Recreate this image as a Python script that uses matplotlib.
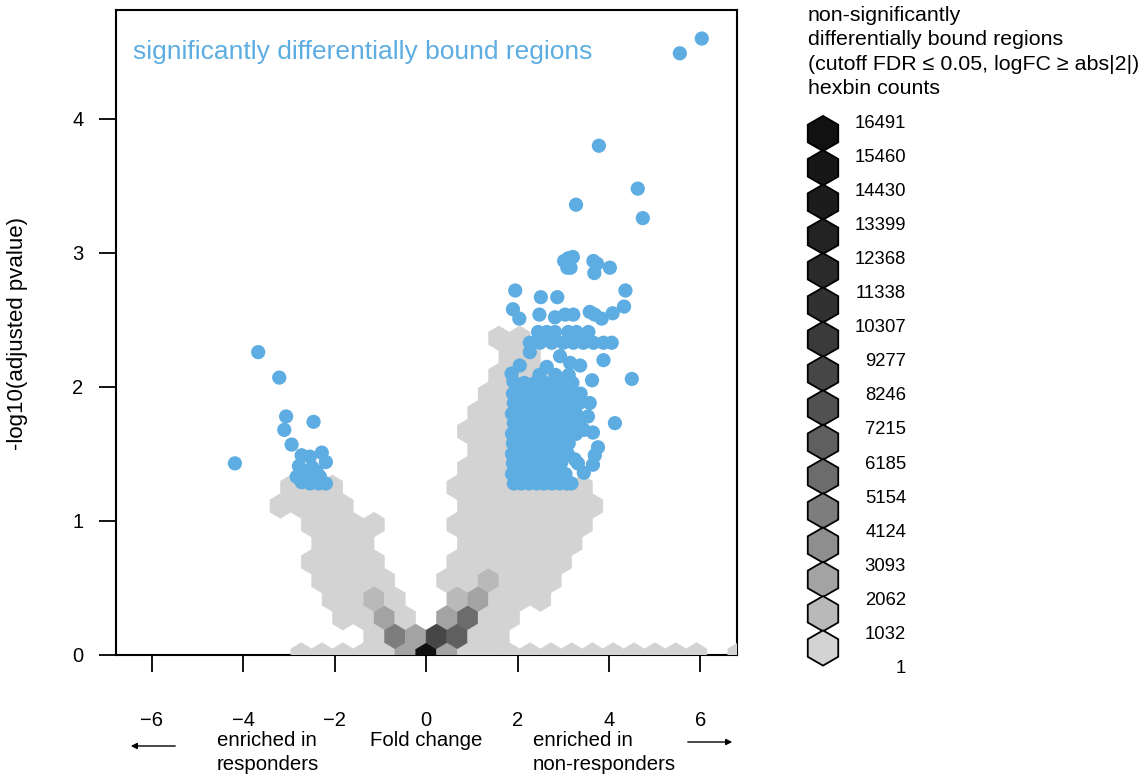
import numpy as np
import matplotlib
matplotlib.use("Agg")
import matplotlib.pyplot as plt
from matplotlib.colors import ListedColormap, BoundaryNorm
from matplotlib.patches import RegularPolygon

plt.rcParams['font.family'] = ['Liberation Sans', 'DejaVu Sans']

BLUE = '#5DADE2'

# hexbin legend breaks (counts) and grey of each band, lowest band first
count_breaks = [1, 1032, 2062, 3093, 4124, 5154, 6185, 7215, 8246, 9277,
                10307, 11338, 12368, 13399, 14430, 15460, 16491]
band_greys = ['#d3d3d3', '#b9b9b9', '#a3a3a3', '#8e8e8e', '#7d7d7d', '#6c6c6c',
              '#5f5f5f', '#515151', '#464646', '#3a3a3a', '#313131', '#2a2a2a',
              '#232323', '#1c1c1c', '#171717', '#111111']
band_codes = '123456789abcdefg'

# hexbin cells of non-significant regions, one string per hex row (y = 0 upward)
# char = count band ('.' = empty); column k -> hex column k - 15
hex_rows = [
    ".........111113g3111111111111.1",   # r0
    "............1539711............",   # r1
    "...........1131.3611...........",   # r2
    "..........1121..23111..........",   # r3
    "..........1111..112111.........",   # r4
    ".........1111...111111.........",   # r5
    "..........111....111111........",   # r6
    ".........1111...1111111........",   # r7
    "........1111.....1111111.......",   # r8
    "........111.....1111111........",   # r9
    ".................11111.........",   # r10
    ".................11111.........",   # r11
    ".................11111.........",   # r12
    ".................11111.........",   # r13
    "..................1111.........",   # r14
    "..................111..........",   # r15
    "...................11..........",   # r16
    "..................11...........",   # r17
]

# significantly differentially bound regions: log fold change / -log10(adj p)
sig_fc = [
    # responders side
    -3.67, -3.21, -4.18, -3.06, -2.46, -3.10, -2.94, -2.72, -2.54, -2.28, -2.19,
    -2.78, -2.39, -2.83, -2.61, -2.32, -2.54, -2.35, -2.19, -2.72, -2.49, -2.68,
    # non-responders, outliers on top
    6.03, 5.55, 3.78, 4.63, 4.74, 3.28,
    3.02, 3.11, 3.21, 3.09, 3.16, 3.66, 3.74, 3.68, 4.02,
    1.95, 2.51, 2.87, 4.36, 4.33,
    1.90, 2.04, 2.48, 2.82, 3.04, 3.22, 3.58, 3.69, 3.84, 4.08,
    2.45, 2.64, 2.82, 3.11, 3.29, 3.55,
    2.27, 2.49, 2.75, 3.00, 3.22, 3.44, 3.66, 3.88, 4.06,
    2.27, 1.87, 1.91, 2.05, 2.64, 2.93, 3.15, 3.37, 3.88,
    4.50, 3.63, 4.13, 3.58, 3.54, 3.45, 3.65, 3.76, 3.69, 3.65, 3.32, 3.45, 3.18,
    # dense block
    1.92, 2.08, 2.25, 2.42, 2.58, 2.75, 2.92, 3.08,
    1.88, 2.05, 2.22, 2.40, 2.57, 2.74, 2.92, 3.05,
    1.90, 2.08, 2.25, 2.42, 2.60, 2.78, 2.95,
    1.88, 2.05, 2.22, 2.40, 2.57, 2.75, 2.92, 3.10,
    1.90, 2.07, 2.25, 2.42, 2.60, 2.77, 2.95, 3.12,
    1.88, 2.05, 2.22, 2.40, 2.58, 2.75, 2.92, 3.10, 3.28,
    1.92, 2.10, 2.27, 2.45, 2.62, 2.80, 2.97, 3.15, 3.35,
    1.88, 2.05, 2.22, 2.40, 2.57, 2.75, 2.92, 3.10, 3.28,
    1.92, 2.10, 2.27, 2.45, 2.62, 2.80, 2.98, 3.15, 3.35,
    1.90, 2.08, 2.25, 2.42, 2.62, 2.80, 2.98, 3.18, 3.38,
    2.15, 2.38, 2.60, 2.80, 3.00, 3.20,
    # in-between fill of the block
    2.00, 2.33, 2.66, 2.99, 1.97, 2.31, 2.68, 3.02, 2.15, 2.50, 2.85, 3.22,
    2.48, 2.83, 3.12, 2.55, 2.90, 3.25, 2.36, 2.70, 3.05,
]
sig_p = [
    2.26, 2.07, 1.43, 1.78, 1.74, 1.68, 1.57, 1.49, 1.48, 1.51, 1.44,
    1.41, 1.37, 1.33, 1.33, 1.33, 1.28, 1.28, 1.28, 1.29, 1.40, 1.37,
    4.60, 4.49, 3.80, 3.48, 3.26, 3.36,
    2.94, 2.96, 2.97, 2.89, 2.89, 2.94, 2.92, 2.85, 2.89,
    2.72, 2.67, 2.67, 2.72, 2.60,
    2.58, 2.51, 2.54, 2.52, 2.54, 2.54, 2.56, 2.54, 2.51, 2.55,
    2.41, 2.41, 2.41, 2.41, 2.41, 2.41,
    2.33, 2.33, 2.33, 2.33, 2.33, 2.33, 2.33, 2.33, 2.33,
    2.26, 2.10, 2.04, 2.16, 2.15, 2.23, 2.18, 2.16, 2.20,
    2.06, 2.05, 1.73, 1.88, 1.78, 1.68, 1.66, 1.55, 1.49, 1.42, 1.43, 1.36, 1.28,
    1.28, 1.28, 1.28, 1.28, 1.28, 1.28, 1.28, 1.28,
    1.35, 1.35, 1.35, 1.35, 1.35, 1.35, 1.35, 1.35,
    1.43, 1.43, 1.43, 1.43, 1.43, 1.43, 1.43,
    1.50, 1.50, 1.50, 1.50, 1.50, 1.50, 1.50, 1.50,
    1.58, 1.58, 1.58, 1.58, 1.58, 1.58, 1.58, 1.58,
    1.65, 1.65, 1.65, 1.65, 1.65, 1.65, 1.65, 1.65, 1.65,
    1.73, 1.73, 1.73, 1.73, 1.73, 1.73, 1.73, 1.73, 1.73,
    1.80, 1.80, 1.80, 1.80, 1.80, 1.80, 1.80, 1.80, 1.80,
    1.88, 1.88, 1.88, 1.88, 1.88, 1.88, 1.88, 1.88, 1.88,
    1.95, 1.95, 1.95, 1.95, 1.95, 1.95, 1.95, 1.95, 1.95,
    2.03, 2.03, 2.03, 2.03, 2.03, 2.03,
    1.31, 1.31, 1.31, 1.31, 1.62, 1.62, 1.62, 1.62, 1.91, 1.91, 1.91, 1.91,
    2.09, 2.09, 2.09, 1.46, 1.46, 1.46, 1.77, 1.77, 1.77,
]

x_ticks = [-6, -4, -2, 0, 2, 4, 6]
y_ticks = [0, 1, 2, 3, 4]
legend_title = ["non-significantly", "differentially bound regions",
                "(cutoff FDR \u2264 0.05, logFC \u2265 abs|2|)", "hexbin counts"]

# hex grid geometry (one lattice step)
HEX_W = 0.455
HEX_H = 0.278

# hex cells -> centres + count (middle of the band)
cell_x, cell_y, cell_c = [], [], []
for r, row in enumerate(hex_rows):
    for k, ch in enumerate(row):
        if ch == '.':
            continue
        b = band_codes.index(ch) + 1
        cell_x.append((k - 15 + 0.5 * (r % 2)) * HEX_W)
        cell_y.append(r * HEX_H / 2)
        cell_c.append(0.5 * (count_breaks[b - 1] + count_breaks[b]))

fig = plt.figure(figsize=(11.46, 7.79), dpi=100)
ax = fig.add_axes([116 / 1146, 1 - 655 / 779, 621 / 1146, 645 / 779])

cmap = ListedColormap(band_greys)
norm = BoundaryNorm(count_breaks, cmap.N)
ax.hexbin(cell_x, cell_y, C=cell_c, reduce_C_function=np.sum,
          gridsize=(30, 17), extent=(-15 * HEX_W, 15 * HEX_W, 0, 17 * HEX_H),
          cmap=cmap, norm=norm, edgecolors='face', linewidths=0.3, zorder=2.6)
ax.scatter(sig_fc, sig_p, s=105, color=BLUE, edgecolors='none', zorder=3)

ax.set_xlim(-6.78, 6.80)
ax.set_ylim(0, 4.813)
ax.set_xticks(x_ticks)
ax.set_yticks(y_ticks)
for s in ax.spines.values():
    s.set_linewidth(1.5)
ax.tick_params(length=12.5, width=1.3, labelsize=14.5, color='black')
ax.tick_params(axis='x', pad=28)
ax.tick_params(axis='y', pad=11)

# overlay in pixel units for the annotations and the legend
ov = fig.add_axes([0, 0, 1, 1])
ov.set_xlim(0, 1146)
ov.set_ylim(779, 0)
ov.axis('off')

ov.text(133, 52, "significantly differentially bound regions", color=BLUE,
        fontsize=19, ha='left', va='center')
ov.text(18, 333, "-log10(adjusted pvalue)", rotation=90, fontsize=16,
        ha='center', va='center')

ov.text(217, 740, "enriched in", fontsize=14.7, ha='left', va='center')
ov.text(217, 765, "responders", fontsize=14.7, ha='left', va='center')
ov.text(370, 740, "Fold change", fontsize=14.7, ha='left', va='center')
ov.text(533, 740, "enriched in", fontsize=14.7, ha='left', va='center')
ov.text(533, 765, "non-responders", fontsize=14.7, ha='left', va='center')
ov.annotate("", xy=(128, 746), xytext=(178, 746),
            arrowprops=dict(arrowstyle='-|>', color='black', lw=1, mutation_scale=9))
ov.annotate("", xy=(735, 742), xytext=(685, 742),
            arrowprops=dict(arrowstyle='-|>', color='black', lw=1, mutation_scale=9))

for i, line in enumerate(legend_title):
    ov.text(808, 15 + 24.5 * i, line, fontsize=15.4, ha='left', va='center')

n_bands = len(band_greys)
for i in range(n_bands):
    grey = band_greys[n_bands - 1 - i]
    ov.add_patch(RegularPolygon((823, 133.5 + 34.3 * i), numVertices=6, radius=17.6,
                                facecolor=grey, edgecolor='black', lw=1.3))
for i, val in enumerate(count_breaks[::-1]):
    ov.text(906, 123 + 34.1 * i, str(val), fontsize=13.3, ha='right', va='center')

fig.savefig("out.png", dpi=100)
